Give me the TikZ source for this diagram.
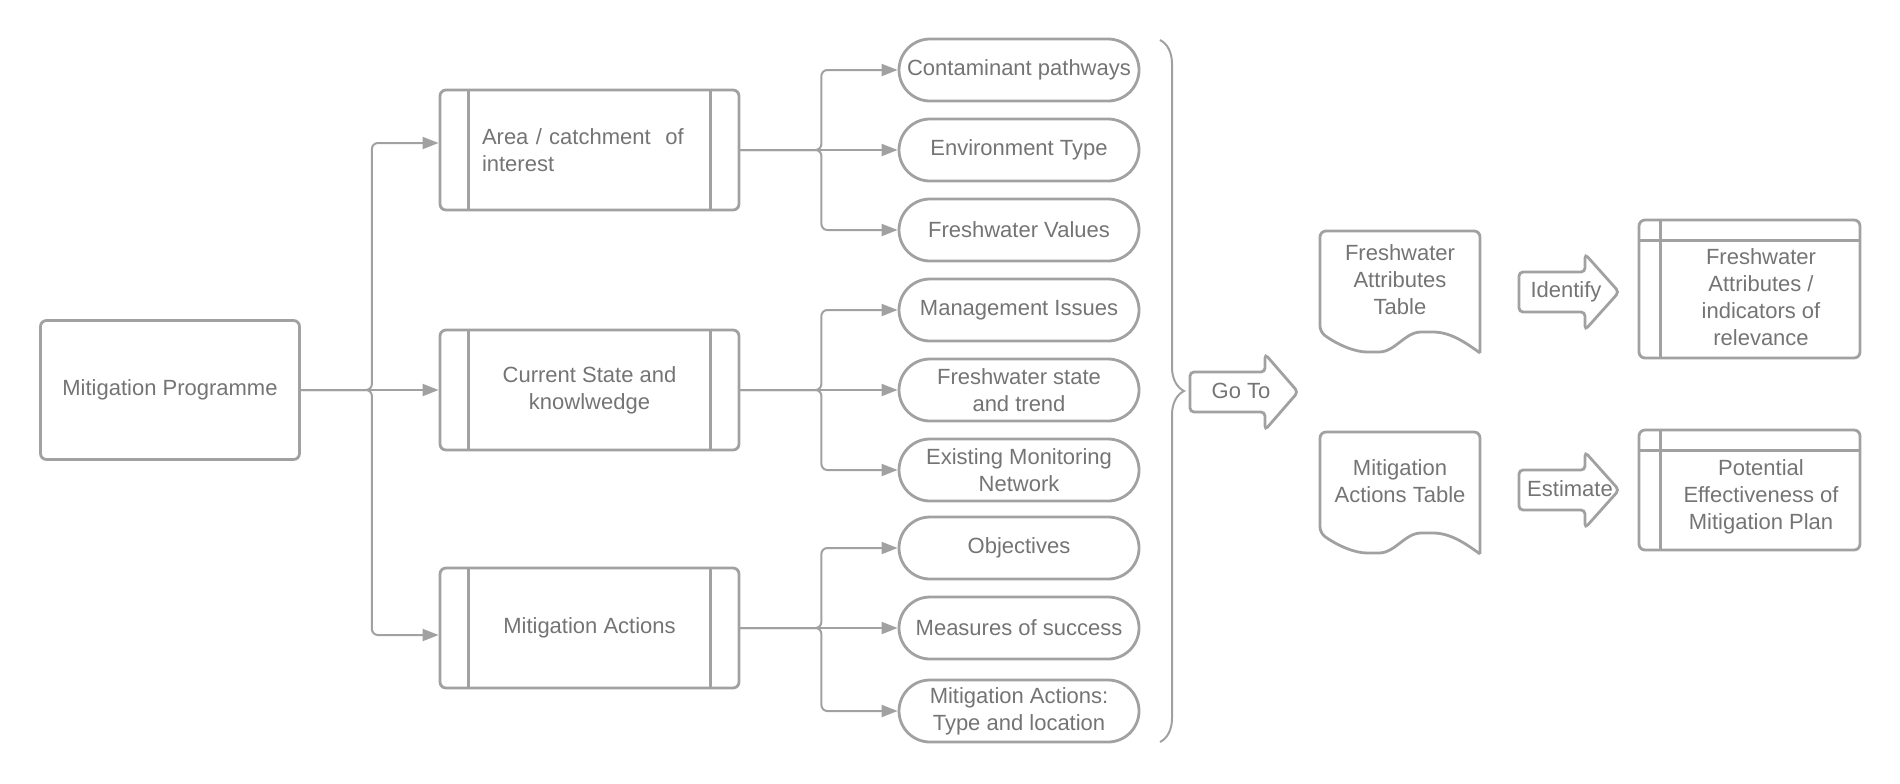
\documentclass[tikz,border=0pt]{standalone}
\usepackage{fontspec}
\setmainfont{Liberation Sans}
\usetikzlibrary{positioning,calc,arrows.meta,decorations.pathreplacing}
\definecolor{linegray}{RGB}{161,161,161}
\definecolor{textgray}{RGB}{116,116,116}

\begin{document}
\begin{tikzpicture}[x=0.5pt,y=-0.5pt,
        every node/.style={text=textgray,font=\fontsize{11}{13.5}\selectfont,align=center},
        shp/.style={draw=linegray,line width=1.4pt},
        box/.style={shp,rounded corners=3pt,inner sep=0pt},
        subproc/.style={box,minimum width=149.5pt,minimum height=60pt},
        pill/.style={shp,rounded corners=15.5pt,minimum width=120pt,minimum height=31pt,inner sep=0pt},
        conn/.style={draw=linegray,line width=1pt,rounded corners=3pt,-{Triangle[length=8pt,width=6pt]}}]
        \useasboundingbox (0,0) rectangle (1900,783);
        \node[box,minimum width=129.5pt,minimum height=69.5pt] (prog) at (170,390) {Mitigation Programme};
        \node[subproc,text width=107.5pt,align=left] (area) at (589.5,150) {Area / catchment~~of\\interest};
        \node[subproc] (state) at (589.5,390) {Current State and\\knowlwedge};
        \node[subproc] (actions) at (589.5,628) {Mitigation Actions};
        \foreach \n in {area,state,actions}
            \draw[shp] ([xshift=15pt]\n.north west) -- ([xshift=15pt]\n.south west)
                ([xshift=-15pt]\n.north east) -- ([xshift=-15pt]\n.south east);
        \node[pill] (paths) at (1019,70) {Contaminant pathways};
        \node[pill] (envtype) at (1019,150) {Environment Type};
        \node[pill] (values) at (1019,230) {Freshwater Values};
        \node[pill] (issues) at (1019,310) {Management Issues};
        \node[pill] (trend) at (1019,390) {Freshwater state\\and trend};
        \node[pill] (monitor) at (1019,470) {Existing Monitoring\\Network};
        \node[pill] (goals) at (1019,548) {Objectives};
        \node[pill] (success) at (1019,628) {Measures of success};
        \node[pill] (mtype) at (1019,711) {Mitigation Actions:\\Type and location};
        \draw[conn] (prog.east) -- ++(71,0) |- ([yshift=3.5pt]area.west);
        \draw[conn] (prog.east) -- (state.west);
        \draw[conn] (prog.east) -- ++(71,0) |- ([yshift=-3.5pt]actions.west);
        \foreach \s/\a/\b/\c in {area/paths/envtype/values,state/issues/trend/monitor,actions/goals/success/mtype}{
            \draw[conn] (\s.east) -- ++(81,0) |- (\a.west);
            \draw[conn] (\s.east) -- (\b.west);
            \draw[conn] (\s.east) -- ++(81,0) |- (\c.west);
        }
        \draw[shp,line width=1pt,decorate,decoration={brace,amplitude=12pt}] (1160,40) -- (1160,742);
        \coordinate (goto) at (1190,392);
        \draw[shp,rounded corners=2pt] (goto) ++(0,-20) -- ++(75,0) -- ++(0,-18) -- ++(33,38) -- ++(-33,38) -- ++(0,-18) -- ++(-75,0) -- cycle;
        \node (gotolbl) at (1241,391) {Go To};
        \foreach \dy in {0,201}
            \draw[shp,rounded corners=3pt] (1480,{353+\dy}) -- (1480,{231+\dy}) -- (1320,{231+\dy}) -- (1320,{332+\dy})
                .. controls (1338,{345+\dy}) and (1355,{352+\dy}) .. (1373,{352+\dy})
                .. controls (1395,{352+\dy}) and (1405,{332+\dy}) .. (1427,{332+\dy})
                .. controls (1450,{332+\dy}) and (1465,{342+\dy}) .. (1480,{353+\dy});
        \node (fwtable) at (1400,280) {Freshwater\\Attributes\\Table};
        \node (matable) at (1400,481) {Mitigation\\Actions Table};
        \coordinate (identify) at (1519,292);
        \coordinate (estimate) at (1519,490);
        \foreach \n in {identify,estimate}
            \draw[shp,rounded corners=2pt] (\n) ++(0,-20) -- ++(66,0) -- ++(0,-18) -- ++(34,38) -- ++(-34,38) -- ++(0,-18) -- ++(-66,0) -- cycle;
        \node (identlbl) at (1566,292) {Identify};
        \node (estlbl) at (1570,489) {Estimate};
        \node[box,minimum width=110.5pt,minimum height=69pt] (attrs) at (1749.5,289) {};
        \node[box,minimum width=110.5pt,minimum height=60pt] (effect) at (1749.5,490) {};
        \foreach \n in {attrs,effect}
            \draw[shp] ([yshift=-11pt]\n.north west) -- ([yshift=-11pt]\n.north east)
                ([xshift=11.5pt]\n.north west) -- ([xshift=11.5pt]\n.south west);
        \node (attrslbl) at (1761,297) {Freshwater\\Attributes /\\indicators of\\relevance};
        \node (effectlbl) at (1761,497) {Potential\\Effectiveness of\\Mitigation Plan};
    \end{tikzpicture}
\end{document}
